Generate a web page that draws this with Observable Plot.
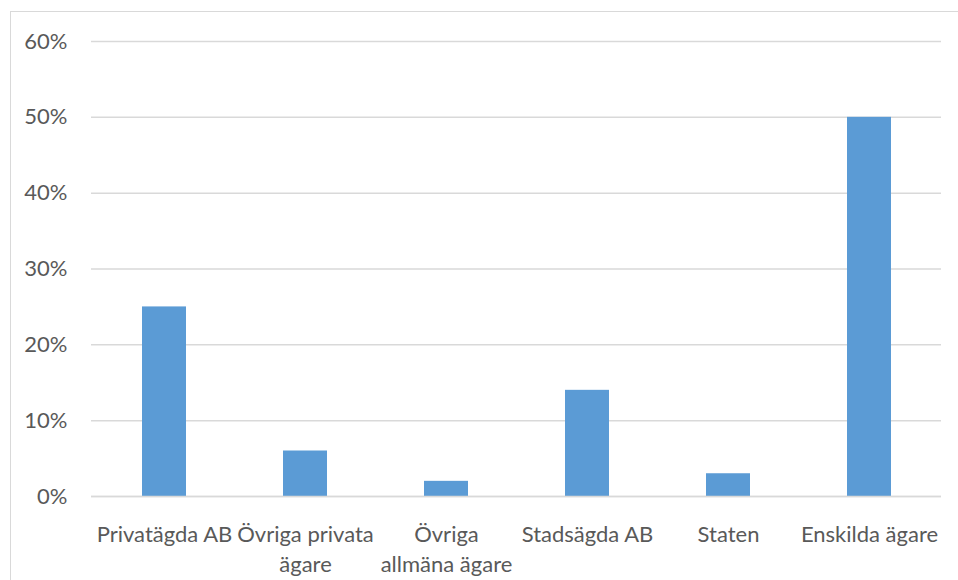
<!DOCTYPE html>
<html>
<head>
<meta charset="utf-8">
<script src="https://cdn.jsdelivr.net/npm/d3@7"></script>
<script src="https://cdn.jsdelivr.net/npm/@observablehq/plot@0.6"></script>
<style>
  html, body { margin: 0; padding: 0; background: #fff; overflow: hidden; }
  #wrap { position: relative; width: 958px; height: 580px; }
  #border { position: absolute; left: 10px; top: 11px; width: 960px; height: 580px; border: 1px solid #d9d9d9; box-sizing: border-box; }
  #chart { position: absolute; left: 0; top: 0; }
</style>
</head>
<body>
<div id="wrap"><div id="border"></div><div id="chart"></div></div>
<script>
const categories = ["Privatägda AB", "Övriga privata\nägare", "Övriga\nallmäna ägare", "Stadsägda AB", "Staten", "Enskilda ägare"];
const values = [0.25, 0.06, 0.02, 0.14, 0.03, 0.50];
const yTicks = [0, 0.1, 0.2, 0.3, 0.4, 0.5, 0.6];

const data = categories.map((c, i) => ({category: c, value: values[i]}));

const chart = Plot.plot({
  width: 958,
  height: 580,
  marginLeft: 91,
  marginRight: 17,
  marginTop: 41,
  marginBottom: 84,
  style: {fontFamily: "Lato, sans-serif", fontSize: "22px", color: "#595959", background: "transparent"},
  x: {domain: categories, paddingInner: 0.688, paddingOuter: 0.344, label: null},
  y: {domain: [0, 0.6], label: null},
  marks: [
    Plot.gridY(yTicks, {stroke: "#d9d9d9", strokeOpacity: 1, strokeWidth: 1.5}),
    Plot.barY(data, {x: "category", y: "value", fill: "#5b9bd5"}),
    Plot.ruleY([0], {stroke: "#d9d9d9", strokeWidth: 1.5}),
    Plot.axisY(yTicks, {tickSize: 0, tickPadding: 24, tickFormat: d => Math.round(d * 100) + "%", fill: "#595959", fontSize: 22, label: null}),
    Plot.axisX({tickSize: 0, tickPadding: 24, lineHeight: 1.36, fill: "#595959", fontSize: 22, label: null})
  ]
});
document.getElementById("chart").appendChild(chart);
</script>
</body>
</html>
